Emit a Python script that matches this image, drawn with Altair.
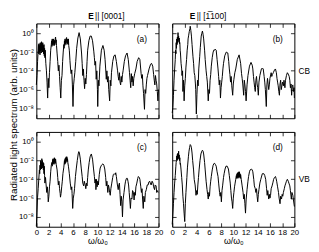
import altair as alt
import pandas as pd

# ---- data: (omega/omega0, log10 spectrum) ----
SPEC_A = [(0.0,-5.5),(0.1,-4.5),(0.2,-3.0),(0.3,-1.8),(0.35,-1.2),(0.4,-2.2),(0.45,-1.1),(0.5,-2.0),(0.55,-1.3),(0.6,-2.3),(0.65,-1.0),(0.7,-1.9),(0.75,-1.2),(0.8,-2.1),(0.85,-0.9),(0.9,-1.8),(0.95,-1.1),(1.0,-2.0),(1.05,-1.0),(1.1,-1.8),(1.15,-1.3),(1.2,-2.2),(1.25,-1.2),(1.3,-2.4),(1.35,-1.6),(1.4,-2.6),(1.45,-1.8),(1.55,-3.2),(1.65,-4.0),(1.75,-5.2),(1.85,-6.9),(1.95,-4.8),(2.05,-5.8),(2.15,-4.2),(2.25,-3.0),(2.35,-1.8),(2.45,-1.2),(2.5,-0.8),(2.55,-1.4),(2.6,-0.6),(2.65,-1.2),(2.7,-0.7),(2.75,-1.3),(2.8,-0.6),(2.85,-1.1),(2.9,-0.7),(2.95,-1.3),(3.0,-0.8),(3.05,-1.2),(3.1,-0.5),(3.15,-0.4),(3.2,-1.0),(3.25,-0.7),(3.3,-1.3),(3.4,-2.2),(3.5,-3.0),(3.6,-4.0),(3.7,-3.4),(3.8,-4.6),(3.9,-5.8),(4.0,-6.9),(4.1,-5.0),(4.2,-4.5),(4.3,-3.0),(4.4,-2.0),(4.5,-1.2),(4.55,-1.6),(4.6,-0.8),(4.65,-1.3),(4.7,-0.6),(4.75,-1.1),(4.8,-0.7),(4.85,-1.2),(4.9,-0.5),(4.95,-0.45),(5.0,-1.0),(5.05,-0.6),(5.1,-1.1),(5.15,-0.7),(5.2,-1.2),(5.25,-0.6),(5.3,-1.3),(5.4,-1.8),(5.5,-2.9),(5.6,-3.8),(5.7,-4.3),(5.8,-3.9),(5.9,-5.5),(6.0,-7.8),(6.1,-5.5),(6.2,-4.8),(6.3,-4.2),(6.45,-3.0),(6.6,-1.6),(6.8,-0.5),(7.0,0.07),(7.2,-0.6),(7.4,-2.1),(7.5,-3.2),(7.6,-4.5),(7.7,-3.8),(7.8,-5.0),(7.9,-5.9),(8.0,-4.8),(8.1,-5.4),(8.2,-4.4),(8.3,-3.0),(8.4,-1.8),(8.6,-0.8),(8.8,-0.3),(9.0,-0.3),(9.2,-0.8),(9.4,-1.9),(9.5,-2.6),(9.6,-3.4),(9.7,-3.0),(9.8,-4.9),(9.9,-4.0),(10.0,-6.0),(10.05,-7.8),(10.15,-5.0),(10.25,-5.6),(10.4,-3.5),(10.65,-1.8),(10.9,-1.3),(11.1,-1.8),(11.25,-2.8),(11.35,-3.8),(11.45,-4.9),(11.55,-4.0),(11.65,-5.2),(11.75,-4.6),(11.85,-6.0),(12.0,-7.2),(12.1,-5.0),(12.2,-5.6),(12.3,-4.2),(12.5,-3.0),(12.7,-2.4),(12.9,-2.3),(13.1,-3.0),(13.3,-4.0),(13.4,-4.6),(13.5,-5.0),(13.6,-4.2),(13.7,-5.2),(13.8,-5.5),(13.9,-4.6),(14.0,-5.2),(14.1,-4.4),(14.2,-4.0),(14.4,-3.0),(14.6,-2.4),(14.85,-2.1),(15.05,-2.8),(15.25,-4.2),(15.35,-5.0),(15.45,-5.8),(15.55,-4.3),(15.65,-5.2),(15.75,-4.6),(15.85,-5.6),(15.95,-4.8),(16.1,-4.3),(16.3,-3.8),(16.5,-3.0),(16.75,-2.6),(16.95,-2.8),(17.15,-4.3),(17.25,-4.8),(17.35,-4.4),(17.45,-5.6),(17.55,-6.4),(17.7,-8.1),(17.8,-6.0),(17.9,-6.4),(18.0,-5.5),(18.1,-4.8),(18.2,-4.5),(18.45,-3.8),(18.7,-3.3),(18.85,-3.2),(19.05,-3.5),(19.2,-4.4),(19.3,-5.0),(19.4,-5.5),(19.5,-4.5),(19.6,-5.0),(19.7,-5.4),(19.8,-6.2),(19.9,-7.2),(20.0,-6.0)]

SPEC_B = [(0.0,-8.5),(0.1,-7.9),(0.2,-6.6),(0.3,-5.0),(0.4,-3.8),(0.5,-2.8),(0.55,-1.8),(0.6,-2.2),(0.65,-1.0),(0.7,-1.6),(0.75,-0.6),(0.8,-1.2),(0.85,-0.4),(0.9,-1.0),(0.95,0.07),(1.0,-0.7),(1.05,-0.3),(1.1,-0.9),(1.15,-0.5),(1.2,-1.1),(1.25,-1.0),(1.3,-1.8),(1.35,-2.1),(1.45,-3.2),(1.55,-3.8),(1.6,-4.5),(1.7,-4.0),(1.75,-6.2),(1.85,-5.0),(1.95,-7.2),(2.05,-5.6),(2.15,-4.8),(2.25,-3.6),(2.35,-2.8),(2.45,-1.8),(2.55,-1.2),(2.6,-0.6),(2.7,-0.2),(2.8,0.2),(2.9,0.5),(2.95,0.75),(3.05,0.3),(3.15,-0.3),(3.25,-1.2),(3.4,-2.5),(3.5,-3.2),(3.6,-4.2),(3.7,-4.5),(3.8,-5.4),(3.85,-6.0),(3.95,-8.6),(4.05,-6.5),(4.15,-5.0),(4.25,-5.6),(4.35,-3.8),(4.5,-2.5),(4.6,-1.5),(4.75,-0.3),(4.85,0.0),(4.95,0.24),(5.05,-0.1),(5.15,-0.6),(5.3,-1.8),(5.4,-2.8),(5.55,-4.0),(5.65,-4.6),(5.75,-5.2),(5.9,-7.2),(6.0,-6.0),(6.1,-6.4),(6.2,-5.0),(6.3,-4.4),(6.4,-3.5),(6.55,-2.6),(6.7,-2.0),(6.85,-1.75),(6.95,-1.8),(7.05,-1.7),(7.2,-1.8),(7.35,-2.8),(7.5,-3.8),(7.6,-4.6),(7.7,-5.5),(7.8,-5.0),(7.9,-6.9),(8.0,-5.8),(8.1,-5.2),(8.2,-4.6),(8.3,-3.8),(8.4,-3.2),(8.6,-2.4),(8.85,-2.0),(9.1,-2.1),(9.25,-3.0),(9.35,-3.8),(9.45,-4.4),(9.55,-5.2),(9.65,-4.6),(9.75,-5.6),(9.9,-6.6),(10.0,-5.4),(10.1,-4.9),(10.25,-4.2),(10.4,-3.8),(10.65,-2.8),(10.95,-2.3),(11.2,-3.2),(11.35,-4.3),(11.45,-4.8),(11.55,-5.4),(11.7,-6.6),(11.8,-5.0),(11.9,-5.5),(12.0,-6.2),(12.1,-7.2),(12.25,-5.5),(12.4,-4.5),(12.65,-3.5),(12.9,-3.1),(13.1,-3.4),(13.2,-3.8),(13.3,-4.6),(13.4,-5.2),(13.5,-5.8),(13.6,-6.2),(13.7,-5.0),(13.8,-4.6),(13.9,-5.4),(14.0,-5.8),(14.1,-6.6),(14.2,-5.2),(14.35,-4.5),(14.6,-3.8),(14.75,-3.7),(14.9,-3.8),(15.05,-4.6),(15.15,-5.2),(15.25,-6.0),(15.4,-7.8),(15.5,-5.5),(15.6,-4.8),(15.7,-5.4),(15.8,-6.0),(15.9,-5.5),(16.0,-4.8),(16.2,-4.2),(16.3,-4.6),(16.4,-4.4),(16.55,-4.2),(16.75,-3.9),(16.9,-3.8),(17.05,-4.2),(17.15,-4.8),(17.25,-5.2),(17.35,-5.6),(17.45,-6.2),(17.55,-6.6),(17.65,-5.4),(17.75,-5.0),(17.85,-6.0),(17.95,-5.6),(18.05,-5.2),(18.2,-5.6),(18.3,-5.0),(18.45,-5.8),(18.55,-5.0),(18.7,-4.5),(18.85,-4.2),(19.0,-4.35),(19.15,-4.6),(19.25,-5.0),(19.35,-5.8),(19.45,-5.4),(19.55,-6.6),(19.65,-5.6),(19.75,-5.5),(19.85,-6.2),(19.95,-5.8),(20.0,-6.9)]

SPEC_C = [(0.0,-9.0),(0.1,-7.5),(0.2,-5.9),(0.3,-5.0),(0.4,-4.0),(0.5,-3.0),(0.55,-3.4),(0.6,-2.5),(0.65,-3.0),(0.7,-2.0),(0.75,-2.8),(0.8,-2.2),(0.85,-2.9),(0.9,-1.8),(0.95,-2.6),(1.0,-2.0),(1.05,-2.8),(1.1,-2.2),(1.15,-3.0),(1.2,-2.3),(1.25,-3.4),(1.3,-2.6),(1.35,-3.6),(1.4,-4.4),(1.5,-3.8),(1.6,-4.6),(1.7,-5.4),(1.8,-4.8),(1.9,-5.6),(1.95,-6.4),(2.05,-5.8),(2.15,-4.8),(2.25,-4.2),(2.35,-3.2),(2.45,-2.5),(2.55,-2.2),(2.6,-2.6),(2.65,-1.9),(2.7,-2.4),(2.75,-1.8),(2.8,-2.3),(2.85,-1.9),(2.9,-2.4),(2.95,-1.7),(3.0,-2.2),(3.05,-1.8),(3.1,-2.3),(3.15,-1.85),(3.25,-2.4),(3.4,-3.0),(3.5,-3.8),(3.6,-4.6),(3.7,-4.2),(3.8,-5.0),(3.9,-5.5),(3.95,-5.9),(4.05,-5.5),(4.15,-4.8),(4.25,-4.2),(4.35,-3.4),(4.5,-2.7),(4.6,-2.0),(4.65,-2.4),(4.7,-1.8),(4.75,-2.3),(4.8,-1.7),(4.85,-2.2),(4.9,-1.6),(4.95,-2.0),(5.0,-1.6),(5.05,-2.1),(5.1,-1.8),(5.15,-2.2),(5.25,-2.6),(5.4,-3.4),(5.55,-4.4),(5.7,-5.1),(5.8,-4.8),(5.85,-5.5),(5.95,-7.1),(6.05,-6.0),(6.15,-5.6),(6.25,-5.0),(6.4,-3.7),(6.55,-2.8),(6.7,-2.0),(6.85,-1.3),(6.95,-1.05),(7.05,-1.2),(7.2,-1.85),(7.35,-2.8),(7.5,-3.7),(7.6,-4.4),(7.75,-4.7),(7.85,-4.2),(8.0,-4.6),(8.1,-5.0),(8.2,-4.4),(8.3,-4.7),(8.4,-3.8),(8.5,-3.0),(8.65,-2.2),(8.8,-1.6),(9.0,-1.3),(9.2,-1.85),(9.35,-2.8),(9.5,-3.7),(9.6,-4.4),(9.7,-4.0),(9.75,-5.1),(9.85,-4.0),(9.95,-4.8),(10.05,-4.2),(10.15,-4.6),(10.3,-3.5),(10.45,-2.8),(10.65,-2.5),(10.9,-2.35),(11.05,-2.5),(11.2,-2.9),(11.35,-3.8),(11.45,-4.7),(11.55,-4.2),(11.7,-5.4),(11.8,-4.6),(11.9,-4.9),(12.0,-5.4),(12.1,-5.7),(12.2,-5.0),(12.35,-4.4),(12.5,-3.8),(12.6,-3.5),(12.75,-3.4),(12.9,-3.5),(13.0,-3.3),(13.1,-3.7),(13.25,-4.5),(13.4,-5.1),(13.5,-4.6),(13.6,-4.4),(13.7,-5.6),(13.8,-6.8),(13.9,-5.8),(14.0,-6.4),(14.1,-8.0),(14.2,-6.2),(14.35,-5.4),(14.5,-4.6),(14.6,-4.2),(14.75,-3.9),(14.9,-3.9),(15.0,-4.2),(15.1,-4.6),(15.2,-5.4),(15.3,-6.2),(15.4,-7.1),(15.5,-6.0),(15.65,-6.1),(15.75,-5.2),(15.9,-5.4),(16.0,-6.2),(16.1,-5.4),(16.2,-5.7),(16.3,-4.8),(16.45,-4.4),(16.6,-3.9),(16.7,-3.7),(16.85,-3.8),(16.95,-4.0),(17.1,-4.8),(17.2,-5.4),(17.3,-5.0),(17.4,-6.2),(17.5,-7.1),(17.6,-5.8),(17.75,-6.4),(17.85,-5.4),(18.0,-5.1),(18.15,-4.6),(18.3,-4.6),(18.4,-4.3),(18.55,-4.2),(18.7,-4.5),(18.8,-4.6),(18.95,-4.2),(19.1,-4.4),(19.2,-4.8),(19.35,-5.1),(19.45,-4.6),(19.6,-4.7),(19.7,-5.4),(19.8,-5.2),(19.95,-5.4)]

SPEC_D = [(0.0,-8.8),(0.1,-7.8),(0.2,-6.6),(0.3,-5.4),(0.4,-4.4),(0.5,-3.6),(0.6,-2.6),(0.65,-2.2),(0.7,-2.0),(0.75,-1.5),(0.8,-2.0),(0.85,-1.3),(0.9,-1.9),(0.95,-1.2),(1.0,-1.8),(1.05,-1.0),(1.1,-1.7),(1.15,-1.4),(1.2,-2.0),(1.25,-1.7),(1.3,-2.4),(1.35,-2.3),(1.45,-3.0),(1.55,-3.8),(1.65,-4.6),(1.75,-5.8),(1.85,-6.6),(1.95,-7.6),(2.05,-8.5),(2.15,-6.6),(2.25,-5.4),(2.4,-3.8),(2.5,-2.7),(2.65,-1.6),(2.75,-1.0),(2.85,-0.6),(2.95,-0.3),(3.05,-0.4),(3.15,-0.65),(3.25,-1.2),(3.35,-2.0),(3.5,-3.0),(3.6,-4.0),(3.75,-4.6),(3.9,-5.7),(4.0,-5.2),(4.1,-5.6),(4.2,-4.6),(4.3,-3.8),(4.4,-3.0),(4.55,-2.0),(4.7,-1.3),(4.85,-1.0),(4.95,-0.9),(5.05,-1.0),(5.15,-1.3),(5.3,-2.2),(5.4,-3.0),(5.55,-4.2),(5.7,-5.1),(5.8,-5.6),(5.9,-6.1),(6.0,-5.4),(6.1,-5.8),(6.2,-4.8),(6.3,-4.2),(6.4,-3.7),(6.55,-3.0),(6.7,-2.5),(6.85,-2.3),(6.95,-2.3),(7.05,-2.4),(7.2,-2.6),(7.35,-3.2),(7.5,-3.7),(7.6,-4.4),(7.75,-5.4),(7.85,-5.8),(7.95,-5.4),(8.05,-6.4),(8.15,-5.2),(8.25,-4.7),(8.4,-3.8),(8.5,-3.4),(8.65,-2.9),(8.8,-2.6),(9.0,-2.6),(9.2,-2.9),(9.35,-3.6),(9.5,-4.4),(9.6,-5.2),(9.7,-6.0),(9.8,-6.4),(9.9,-7.1),(10.0,-6.0),(10.1,-5.4),(10.2,-4.8),(10.3,-4.4),(10.4,-4.0),(10.5,-3.6),(10.55,-3.9),(10.6,-3.4),(10.65,-3.8),(10.7,-3.3),(10.75,-3.9),(10.8,-3.3),(10.85,-3.8),(10.9,-3.2),(10.95,-3.7),(11.0,-3.2),(11.05,-3.8),(11.1,-3.4),(11.15,-3.9),(11.2,-3.5),(11.3,-4.0),(11.45,-4.7),(11.6,-5.4),(11.7,-6.1),(11.8,-5.6),(11.9,-6.6),(12.0,-7.6),(12.1,-6.2),(12.25,-5.1),(12.4,-4.2),(12.5,-3.7),(12.65,-3.2),(12.75,-3.0),(12.95,-2.9),(13.1,-3.0),(13.2,-3.2),(13.35,-4.0),(13.45,-4.7),(13.6,-5.0),(13.7,-5.4),(13.8,-5.0),(13.9,-5.8),(14.0,-6.4),(14.1,-5.6),(14.2,-5.1),(14.35,-4.4),(14.5,-4.0),(14.75,-3.4),(15.0,-3.4),(15.15,-3.6),(15.3,-4.0),(15.45,-5.0),(15.55,-5.7),(15.65,-5.2),(15.8,-6.1),(15.9,-5.6),(16.0,-6.0),(16.1,-5.7),(16.2,-5.0),(16.35,-4.7),(16.5,-4.3),(16.6,-4.0),(16.75,-3.8),(16.9,-3.7),(17.0,-3.9),(17.1,-4.2),(17.25,-4.8),(17.4,-5.4),(17.5,-6.0),(17.65,-6.6),(17.75,-5.8),(17.9,-6.1),(18.0,-5.6),(18.1,-5.8),(18.2,-5.4),(18.35,-5.0),(18.45,-4.7),(18.6,-4.4),(18.7,-4.2),(18.85,-4.0),(19.0,-4.2),(19.1,-4.4),(19.25,-4.7),(19.35,-5.2),(19.5,-6.1),(19.6,-5.4),(19.75,-5.7),(19.85,-6.2),(20.0,-6.9)]

X_TICKS = [0, 2, 4, 6, 8, 10, 12, 14, 16, 18, 20]
Y_TICKS = [1, 1e-2, 1e-4, 1e-6, 1e-8]
Y_DOMAIN = [10 ** -9.05, 10 ** 1.05]

W, H = 125, 97
FONT = "Liberation Sans Narrow, Liberation Sans, Arial, sans-serif"
YLAB = ("datum.value > 0.5 ? '10\u2070' : datum.value > 0.005 ? '10\u207b\u00b2' : "
        "datum.value > 5e-5 ? '10\u207b\u2074' : datum.value > 5e-7 ? '10\u207b\u2076' : '10\u207b\u2078'")


def txt(s, x, y, size=8, weight="normal", align="center", angle=0, font=FONT):
    kw = dict(font=font, fontSize=size, fontWeight=weight, align=align,
              baseline="middle", color="black")
    if angle:
        kw["angle"] = angle
    return alt.Chart(pd.DataFrame({"t": [s]})).mark_text(**kw).encode(
        text="t:N", x=alt.value(x), y=alt.value(y))


def panel(spec, letter, bottom_labels, left_labels, side=None, title=None, ytitle=False):
    df = pd.DataFrame({"w": [p[0] for p in spec], "p": [10 ** p[1] for p in spec]})
    xs_ = alt.Scale(domain=[0, 20], nice=False, zero=False)
    ys_ = alt.Scale(type="log", domain=Y_DOMAIN, nice=False)
    xb = dict(orient="bottom", values=X_TICKS, offset=-4, tickSize=4, domain=False,
              grid=False, labels=bottom_labels, labelFlush=False, labelOverlap=False,
              labelPadding=2, title=None)
    if bottom_labels:
        xb.update(title="\u03c9/\u03c9\u2080", titlePadding=0, titleFontSize=9,
                  titleFontWeight="normal", titleFont="Liberation Sans")
    yl = dict(orient="left", values=Y_TICKS, offset=-4, tickSize=4, domain=False,
              grid=False, labels=left_labels, labelExpr=YLAB, labelPadding=3,
              labelOverlap=False, labelFlush=False, title=None)
    line = alt.Chart(df).mark_line(color="black", strokeWidth=1.0).encode(
        x=alt.X("w:Q", scale=xs_, axis=alt.Axis(**xb)),
        y=alt.Y("p:Q", scale=ys_, axis=alt.Axis(**yl)))
    ghost = alt.Chart(df).mark_line(opacity=0).encode(
        x=alt.X("w:Q", scale=xs_, axis=alt.Axis(orient="top", values=X_TICKS, offset=-4,
                                                tickSize=4, domain=False, grid=False,
                                                labels=False, title=None)),
        y=alt.Y("p:Q", scale=ys_, axis=alt.Axis(orient="right", values=Y_TICKS, offset=-4,
                                                tickSize=4, domain=False, grid=False,
                                                labels=False, title=None)))
    layers = [line, ghost, txt(letter, W - 17, 16, size=8.5)]
    if side:
        layers.append(txt(side, W + 10, H / 2, size=8.5))
    if title:
        ex, rest = title
        layers.append(txt("E", ex, -8, size=8.5, weight="bold", align="left",
                          font="Liberation Sans"))
        layers.append(txt(rest, ex + 7, -8, size=8.5, align="left"))
    if ytitle:
        layers.append(txt("Radiated light spectrum (arb. units)", -23, H + 7, size=10,
                          angle=270, font="Liberation Sans"))
    return alt.layer(*layers).resolve_axis(x="independent", y="independent").properties(
        width=W, height=H)


pa = panel(SPEC_A, "(a)", False, True, title=(53, "|| [0001]"), ytitle=True)
pb = panel(SPEC_B, "(b)", False, False, side="CB", title=(18, "|| [1\u0305100]"))
pc = panel(SPEC_C, "(c)", True, True)
pd_ = panel(SPEC_D, "(d)", True, False, side="VB")

chart = alt.concat(pa, pb, pc, pd_, columns=2, spacing=14, bounds="flush").properties(
    padding=0
).configure_view(stroke="black", strokeWidth=1).configure_axis(
    tickColor="black", tickWidth=0.8, labelColor="black", labelFont=FONT,
    labelFontSize=8, titleColor="black")

chart.save("out.html", embed_options={"renderer": "svg", "actions": False})
